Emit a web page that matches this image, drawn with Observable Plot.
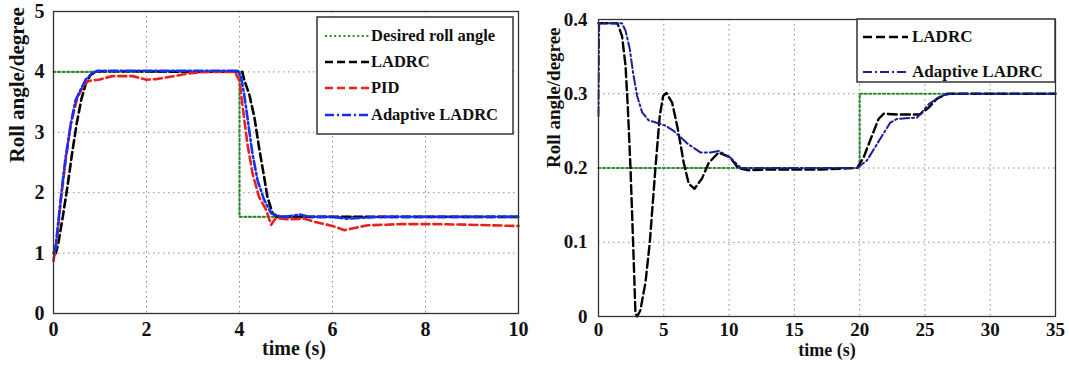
<!DOCTYPE html>
<html>
<head>
<meta charset="utf-8">
<script src="https://cdn.jsdelivr.net/npm/d3@7"></script>
<script src="https://cdn.jsdelivr.net/npm/@observablehq/plot@0.6"></script>
<style>
  body { margin: 0; background: #fff; }
  #wrap { position: relative; width: 1069px; height: 365px; overflow: hidden; }
  #left, #right, #legend { position: absolute; top: 0; }
  #left { left: 0; }
  #right { left: 530px; }
  #legend { left: 0; pointer-events: none; }
  text { font-family: "Liberation Serif", "Times New Roman", serif; }
</style>
</head>
<body>
<div id="wrap">
  <div id="left"></div>
  <div id="right"></div>
  <svg id="legend" width="1069" height="365"></svg>
</div>
<script>
// ---------- Left panel data ----------
const xTicksL = [0, 2, 4, 6, 8, 10];
const yTicksL = [0, 1, 2, 3, 4, 5];

const desTL = [0, 4, 4, 10];
const desYL = [4, 4, 1.6, 1.6];

const ladrcTL = [0.03, 0.05, 0.1, 0.2, 0.3, 0.4, 0.5, 0.6, 0.7, 0.8, 0.9, 1.0, 2.0, 3.0, 4.0, 4.06, 4.1, 4.21, 4.32, 4.42, 4.53, 4.6, 4.71, 4.82, 5.0, 6, 7, 8, 9, 10];
const ladrcYL = [0.98, 1.0, 1.15, 1.6, 2.1, 2.65, 3.15, 3.55, 3.82, 3.95, 4.0, 4.01, 4.01, 4.0, 4.01, 4.0, 3.87, 3.63, 3.25, 2.75, 2.26, 1.93, 1.66, 1.6, 1.6, 1.6, 1.6, 1.6, 1.6, 1.6];

const pidTL = [0, 0.08, 0.15, 0.26, 0.37, 0.51, 0.65, 0.75, 0.97, 1.26, 1.7, 2.0, 2.2, 2.6, 2.95, 3.3, 3.9, 4.0, 4.07, 4.17, 4.28, 4.42, 4.57, 4.68, 4.78, 5.0, 5.4, 5.6, 6.0, 6.26, 6.5, 6.76, 7.48, 8.2, 8.92, 9.92, 10];
const pidYL = [0.87, 1.27, 1.82, 2.53, 3.13, 3.57, 3.78, 3.85, 3.87, 3.93, 3.93, 3.87, 3.88, 3.93, 3.98, 4.0, 4.0, 3.85, 3.41, 2.81, 2.32, 1.93, 1.72, 1.47, 1.58, 1.56, 1.57, 1.52, 1.45, 1.38, 1.42, 1.46, 1.48, 1.48, 1.47, 1.45, 1.45];

const adaTL = [0, 0.04, 0.1, 0.19, 0.26, 0.37, 0.47, 0.58, 0.69, 0.83, 0.95, 2, 3, 3.96, 4.03, 4.1, 4.17, 4.28, 4.39, 4.53, 4.68, 4.86, 5.0, 5.3, 5.5, 6.0, 6.3, 7, 8, 9, 10];
const adaYL = [1.0, 1.07, 1.5, 2.14, 2.58, 3.13, 3.52, 3.7, 3.87, 3.98, 4.02, 4.02, 4.02, 4.02, 3.93, 3.63, 3.25, 2.64, 2.2, 1.88, 1.66, 1.61, 1.6, 1.64, 1.6, 1.6, 1.57, 1.6, 1.6, 1.6, 1.6];

// ---------- Right panel data ----------
const xTicksR = [0, 5, 10, 15, 20, 25, 30, 35];
const yTicksR = [0, 0.1, 0.2, 0.3, 0.4];

const desTR = [0, 20, 20, 35];
const desYR = [0.2, 0.2, 0.3, 0.3];

const ladrcTR = [0, 1.45, 1.8, 2.07, 2.25, 2.45, 2.65, 2.83, 2.96, 3.2, 3.6, 3.93, 4.36, 4.69, 4.95, 5.2, 5.64, 6.07, 6.53, 6.91, 7.35, 7.93, 8.44, 9.2, 10.1, 10.7, 11.5, 13, 15, 17, 19.8, 20.3, 20.8, 21.45, 21.83, 23, 24.6, 25.27, 25.9, 26.7, 28, 30, 32, 35];
const ladrcYR = [0.395, 0.395, 0.378, 0.338, 0.28, 0.2, 0.1, 0.004, 0, 0.008, 0.046, 0.1, 0.2, 0.27, 0.297, 0.301, 0.288, 0.253, 0.207, 0.179, 0.172, 0.186, 0.207, 0.221, 0.214, 0.2, 0.197, 0.198, 0.198, 0.198, 0.2, 0.214, 0.237, 0.266, 0.273, 0.272, 0.272, 0.281, 0.293, 0.3, 0.3, 0.3, 0.3, 0.3];

const adaTR = [0, 0.05, 1.8, 2.07, 2.4, 2.65, 2.96, 3.34, 3.85, 4.45, 5.13, 5.76, 6.8, 7.8, 8.57, 9.2, 10.1, 10.9, 13, 15, 17, 19.8, 20.55, 21.6, 22.34, 22.85, 24.4, 25.3, 26.2, 27, 30, 35];
const adaYR = [0.27, 0.395, 0.395, 0.385, 0.36, 0.328, 0.297, 0.275, 0.264, 0.261, 0.257, 0.25, 0.233, 0.221, 0.221, 0.223, 0.214, 0.2, 0.2, 0.2, 0.2, 0.2, 0.21, 0.24, 0.261, 0.266, 0.268, 0.286, 0.297, 0.3, 0.3, 0.3];

const yLabel = "Roll angle/degree";
const xLabel = "time (s)";

const rows = (t, y) => t.map((d, i) => ({t: d, y: y[i]}));

const FONT = "'Liberation Serif', 'Times New Roman', serif";
const GREEN = "#2f8a2f";
const GREEN_DASH = "2,2.6";
const gridStyle = {stroke: "#8a8a8a", strokeOpacity: 1, strokeWidth: 1, strokeDasharray: "1.5,3.5"};

// ---------- Left plot ----------
const left = Plot.plot({
  width: 530, height: 365,
  marginLeft: 53, marginRight: 12, marginTop: 11, marginBottom: 52,
  x: {domain: [0, 10]},
  y: {domain: [0, 5]},
  style: {fontFamily: FONT, fontWeight: "bold", fontSize: "20px", color: "#111", background: "transparent"},
  marks: [
    Plot.gridX({ticks: xTicksL, ...gridStyle}),
    Plot.gridY({ticks: yTicksL, ...gridStyle}),
    Plot.axisX({ticks: xTicksL, tickSize: 0, tickPadding: 8, label: null, tickFormat: d3.format("d")}),
    Plot.axisY({ticks: yTicksL, tickSize: 0, tickPadding: 9, label: null, tickFormat: d3.format("d")}),
    Plot.line(rows(desTL, desYL), {x: "t", y: "y", stroke: GREEN, strokeWidth: 2.2, strokeDasharray: GREEN_DASH}),
    Plot.line(rows(ladrcTL, ladrcYL), {x: "t", y: "y", stroke: "#000", strokeWidth: 2.6, strokeDasharray: "8,4"}),
    Plot.line(rows(pidTL, pidYL), {x: "t", y: "y", stroke: "#e8211d", strokeWidth: 2.6, strokeDasharray: "8,4"}),
    Plot.line(rows(adaTL, adaYL), {x: "t", y: "y", stroke: "#1630f0", strokeWidth: 2.6, strokeDasharray: "9,3,2,3"}),
    Plot.frame({stroke: "#333", strokeWidth: 1.3}),
    Plot.text([yLabel], {frameAnchor: "left", rotate: -90, dx: -36, fontSize: 21}),
    Plot.text([xLabel], {frameAnchor: "bottom", dy: 41, dx: 8, fontSize: 20})
  ]
});
document.getElementById("left").appendChild(left);

// ---------- Right plot ----------
const right = Plot.plot({
  width: 539, height: 365,
  marginLeft: 68, marginRight: 14, marginTop: 19, marginBottom: 49,
  x: {domain: [0, 35]},
  y: {domain: [0, 0.4]},
  style: {fontFamily: FONT, fontWeight: "bold", fontSize: "19px", color: "#111", background: "transparent"},
  marks: [
    Plot.gridX({ticks: xTicksR, ...gridStyle}),
    Plot.gridY({ticks: yTicksR, ...gridStyle}),
    Plot.axisX({ticks: xTicksR, tickSize: 0, tickPadding: 6, label: null, tickFormat: d3.format("d")}),
    Plot.axisY({ticks: yTicksR, tickSize: 0, tickPadding: 11, label: null, tickFormat: d => d === 0 ? "0" : d3.format(".1f")(d)}),
    Plot.line(rows(desTR, desYR), {x: "t", y: "y", stroke: GREEN, strokeWidth: 2.2, strokeDasharray: GREEN_DASH}),
    Plot.line(rows(ladrcTR, ladrcYR), {x: "t", y: "y", stroke: "#000", strokeWidth: 2.4, strokeDasharray: "9,4"}),
    Plot.line(rows(adaTR, adaYR), {x: "t", y: "y", stroke: "#1c2096", strokeWidth: 2, strokeDasharray: "9,3,2,3"}),
    Plot.frame({stroke: "#333", strokeWidth: 1.3}),
    Plot.text([yLabel], {frameAnchor: "left", rotate: -90, dx: -45, fontSize: 19}),
    Plot.text([xLabel], {frameAnchor: "bottom", dy: 39, dx: 0, fontSize: 18})
  ]
});
document.getElementById("right").appendChild(right);

// ---------- Legends (overlay) ----------
const lg = d3.select("#legend");
function legend(box, items, sample, textX, baselines, fontSize) {
  lg.append("rect").attr("x", box[0]).attr("y", box[1]).attr("width", box[2]).attr("height", box[3])
    .attr("fill", "#fff").attr("stroke", "#333").attr("stroke-width", 1.5);
  items.forEach((it, i) => {
    const by = baselines[i];
    lg.append("line").attr("x1", sample[0]).attr("x2", sample[1]).attr("y1", by - 5).attr("y2", by - 5)
      .attr("stroke", it.color).attr("stroke-width", it.w).attr("stroke-dasharray", it.dash);
    lg.append("text").attr("x", textX).attr("y", by).attr("font-size", fontSize).attr("font-weight", "bold")
      .attr("fill", "#111").text(it.name);
  });
}
legend([317, 17, 196, 117], [
  {name: "Desired roll angle", color: GREEN, w: 2.2, dash: GREEN_DASH},
  {name: "LADRC", color: "#000", w: 2.6, dash: "8,4"},
  {name: "PID", color: "#e8211d", w: 2.6, dash: "8,4"},
  {name: "Adaptive LADRC", color: "#1630f0", w: 2.6, dash: "9,3,2,3"}
], [325, 369], 371, [41, 67, 93, 120], 16.5);
legend([857, 19, 198, 63], [
  {name: "LADRC", color: "#000", w: 2.4, dash: "9,4"},
  {name: "Adaptive LADRC", color: "#1c2096", w: 2, dash: "9,3,2,3"}
], [863, 908], 912, [42, 77], 17);
</script>
</body>
</html>
